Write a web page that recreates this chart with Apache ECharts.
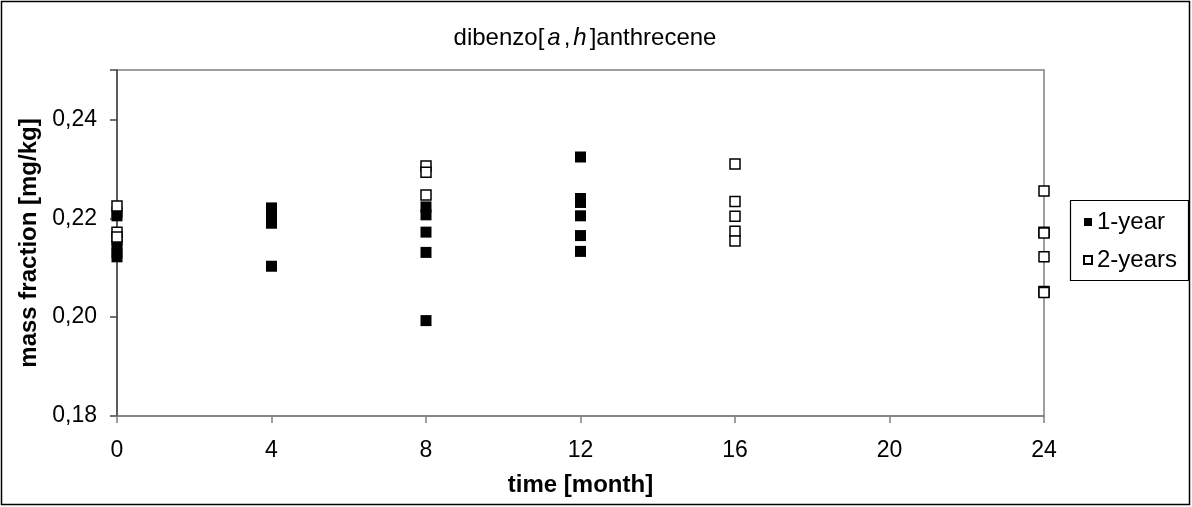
<!DOCTYPE html>
<html>
<head>
<meta charset="utf-8">
<script src="https://cdn.jsdelivr.net/npm/echarts@6/dist/echarts.min.js"></script>
<style>
html,body{margin:0;padding:0;background:#fff;}
#chart{width:1192px;height:507px;}
</style>
</head>
<body>
<div id="chart"></div>
<script>
// Data
var months1 = [0,0,0,0,0,0, 4,4,4,4,4, 8,8,8,8,8, 12,12,12,12,12,12];
var values1 = [0.2212,0.2205,0.2155,0.2145,0.2130,0.2122,
               0.2221,0.2213,0.2204,0.2190,0.2103,
               0.2223,0.2207,0.2172,0.2131,0.1993,
               0.2324,0.2240,0.2232,0.2205,0.2165,0.2133];
var months2 = [0,0,0, 8,8,8, 16,16,16,16,16, 24,24,24,24,24,24];
var values2 = [0.2225,0.2172,0.2162,
               0.2306,0.2293,0.2247,
               0.2310,0.2234,0.2204,0.2174,0.2154,
               0.2255,0.2172,0.2170,0.2122,0.2052,0.2050];
var seriesNames = ['1-year','2-years'];
var xTicks = [0,4,8,12,16,20,24];
var yTicks = [0.18,0.20,0.22,0.24];

function pairs(xs, ys){ return xs.map(function(x,i){ return [x, ys[i]]; }); }

var font = '"Liberation Sans", Arial, sans-serif';
var fs = 24, fsTick = 23;
var chart = echarts.init(document.getElementById('chart'));
chart.setOption({
  animation:false,
  backgroundColor:'#fff',
  graphic:[
    {type:'rect', shape:{x:1.5,y:1.5,width:1188,height:503}, style:{fill:null, stroke:'#000', lineWidth:1.5}, silent:true, z:100},
    {type:'rect', shape:{x:1070.5,y:200.5,width:118,height:80}, style:{fill:null, stroke:'#000', lineWidth:1.2}, silent:true, z:100}
  ],
  title:{
    text:'{n|dibenzo[}{i|a}{n|,}{i|h}{n|]anthrecene}',
    left:580, textAlign:'center', top:21,
    textStyle:{fontWeight:'normal', rich:{
      n:{fontFamily:font, fontSize:fs, fontWeight:'normal', color:'#000'},
      i:{fontFamily:font, fontSize:fs, fontStyle:'italic', fontWeight:'normal', color:'#000', padding:[0,3,0,3]}
    }}
  },
  grid:{left:117, top:70, right:148, bottom:91, show:true, borderColor:'#808080', borderWidth:1.5, backgroundColor:'#fff'},
  legend:{
    orient:'vertical', left:1071, top:201,
    padding:[9,10,10,12],
    itemWidth:8, itemHeight:8, itemGap:14,
    textStyle:{fontFamily:font, fontSize:fs, lineHeight:24, color:'#000'},
    data:[{name:seriesNames[0], icon:'rect'},{name:seriesNames[1], icon:'rect'}]
  },
  xAxis:{
    type:'value', min:0, max:24, interval:4,
    name:'time [month]', nameLocation:'middle', nameGap:57,
    nameTextStyle:{fontFamily:font, fontSize:fs, fontWeight:'bold', color:'#000'},
    axisLine:{show:true, lineStyle:{color:'#808080', width:1.5}},
    axisTick:{show:true, inside:false, length:7, lineStyle:{color:'#808080', width:1.5}},
    axisLabel:{fontFamily:font, fontSize:fsTick, color:'#000', margin:23,
      formatter:function(v){ return xTicks.indexOf(v)>=0 ? String(v) : ''; }},
    splitLine:{show:false}
  },
  yAxis:{
    type:'value', min:0.18, max:0.25, interval:0.02,
    name:'mass fraction [mg/kg]', nameLocation:'middle', nameGap:75, nameRotate:90,
    nameTextStyle:{fontFamily:font, fontSize:fs, fontWeight:'bold', color:'#000'},
    axisLine:{show:true, lineStyle:{color:'#444', width:1.5}},
    axisTick:{show:true, inside:false, length:7, lineStyle:{color:'#444', width:1.5}},
    axisLabel:{fontFamily:font, fontSize:fsTick, color:'#000', margin:20,
      formatter:function(v){
        var ok = yTicks.some(function(t){ return Math.abs(t-v)<1e-9; });
        return ok ? v.toFixed(2).replace('.', ',') : '';
      }},
    splitLine:{show:false}
  },
  series:[
    {name:seriesNames[0], type:'scatter', symbol:'rect', symbolSize:11,
     itemStyle:{color:'#000', borderColor:'#000', borderWidth:0, opacity:1},
     data:pairs(months1, values1)},
    {name:seriesNames[1], type:'scatter', symbol:'rect', symbolSize:10,
     itemStyle:{color:'#fff', borderColor:'#000', borderWidth:1.5, opacity:1},
     data:pairs(months2, values2)}
  ]
});
</script>
</body>
</html>
